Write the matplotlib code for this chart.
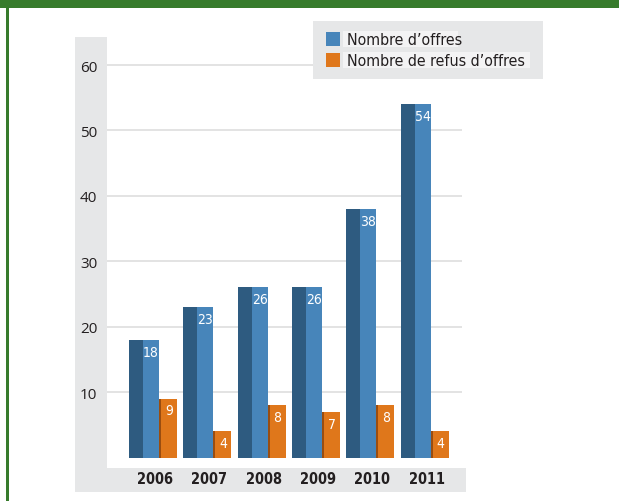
import matplotlib
matplotlib.use("Agg")
import matplotlib.pyplot as plt
from matplotlib.patches import Rectangle
from matplotlib import font_manager
from matplotlib.font_manager import FontProperties

years = ["2006", "2007", "2008", "2009", "2010", "2011"]
offres = [18, 23, 26, 26, 38, 54]
refus = [9, 4, 8, 7, 8, 4]
yticks = [10, 20, 30, 40, 50, 60]
legend_labels = ["Nombre d\u2019offres", "Nombre de refus d\u2019offres"]

# pick a narrow face for the labels when one is installed
names = {f.name for f in font_manager.fontManager.ttflist}
cond_file = font_manager.findfont(FontProperties(family="DejaVu Sans", stretch="condensed"))
if "Liberation Sans Narrow" in names:
    NARROW = dict(fontfamily=["Liberation Sans Narrow", "DejaVu Sans"])
    SCALE = 1.0
elif "Condensed" in cond_file:
    NARROW = dict(fontfamily=["DejaVu Sans"], fontstretch="condensed")
    SCALE = 0.95
else:
    NARROW = dict(fontfamily=["DejaVu Sans"])
    SCALE = 0.85
TICKFONT = ["Open Sans", "DejaVu Sans"]

W, H = 619, 502
fig = plt.figure(figsize=(W / 100, H / 100), dpi=100)
fig.patch.set_facecolor("white")

GREEN = "#377b2c"
PANEL = "#e6e7e8"
DARK_BLUE = "#2e5b80"
BLUE = "#4785ba"
ORANGE = "#df771b"
ORANGE_EDGE = "#9a4d10"
GRID = "#dedede"
INK = "#231f20"


def px_rect(x0, y0, x1, y1, color, z=-1):
    """Rectangle in pixel coordinates measured from the top-left corner."""
    fig.patches.append(Rectangle((x0 / W, 1 - y1 / H), (x1 - x0) / W, (y1 - y0) / H,
                                 transform=fig.transFigure, facecolor=color,
                                 edgecolor="none", zorder=z))


# frame decoration
px_rect(0, 0, W, 9, GREEN)
px_rect(6, 0, 9, H, GREEN)

# grey panels behind the y axis labels and the year labels
px_rect(75, 38, 107, 469, PANEL)
px_rect(75, 469, 466, 493, PANEL)

# main axes, pixel box 107..462 horizontally, value 0 at y=458.5 and 60 at y=66
ax_x0, ax_x1 = 107, 462
ax_y0, ax_y1 = 64.7, 458.5
ymax = 60.2
ax = fig.add_axes([ax_x0 / W, 1 - ax_y1 / H, (ax_x1 - ax_x0) / W, (ax_y1 - ax_y0) / H])
ax.set_facecolor("none")
ax.set_ylim(0, ymax)
step = 54.3
ax.set_xlim(-(153 - ax_x0) / step, (ax_x1 - 153) / step)
for s in ax.spines.values():
    s.set_visible(False)
ax.set_yticks(yticks)
ax.set_yticklabels([str(t) for t in yticks], fontfamily=TICKFONT, fontsize=11, color=INK)
ax.tick_params(axis="y", length=0, pad=7)
ax.yaxis.grid(True, color=GRID, linewidth=1.2)
ax.set_axisbelow(True)
ax.set_xticks([])

x = list(range(len(years)))
u = 1 / step  # one pixel in data units

# offers: dark side face + front face
ax.bar([i - 17 * u for i in x], offres, width=14 * u, color=DARK_BLUE, zorder=2)
ax.bar([i - 2 * u for i in x], offres, width=16 * u, color=BLUE, zorder=2)
# refusals: thin shaded edge + front face
ax.bar([i + 7 * u for i in x], refus, width=2 * u, color=ORANGE_EDGE, zorder=2)
ax.bar([i + 16 * u for i in x], refus, width=16 * u, color=ORANGE, zorder=2)

for i in x:
    ax.annotate(str(offres[i]), (i - 2 * u, offres[i]), xytext=(0, -3.5),
                textcoords="offset points", ha="center", va="top",
                color="white", fontsize=10.5 * SCALE, zorder=3, **NARROW)
    ax.annotate(str(refus[i]), (i + 16 * u, refus[i]), xytext=(0, -3.5),
                textcoords="offset points", ha="center", va="top",
                color="white", fontsize=10.5 * SCALE, zorder=3, **NARROW)
    ax.text(i + 2 * u, -21.5 / (ax_y1 - ax_y0) * ymax, years[i], ha="center", va="center",
            fontsize=11 * SCALE, fontweight="bold", color=INK, clip_on=False, **NARROW)

# legend block, drawn on top of the plot area
px_rect(313, 22, 543, 80, PANEL, z=1)
px_rect(343, 32, 458, 48, "#f3f3f4", z=1.1)
px_rect(343, 53, 530, 69, "#f3f3f4", z=1.1)
px_rect(326, 33, 340, 47, BLUE, z=1.2)
px_rect(326, 54, 340, 68, ORANGE, z=1.2)
fig.text(347 / W, 1 - 40.5 / H, legend_labels[0], ha="left", va="center",
         fontsize=12 * SCALE, color=INK, zorder=2, **NARROW)
fig.text(347 / W, 1 - 61.5 / H, legend_labels[1], ha="left", va="center",
         fontsize=12 * SCALE, color=INK, zorder=2, **NARROW)

fig.savefig("out.png", dpi=100)
